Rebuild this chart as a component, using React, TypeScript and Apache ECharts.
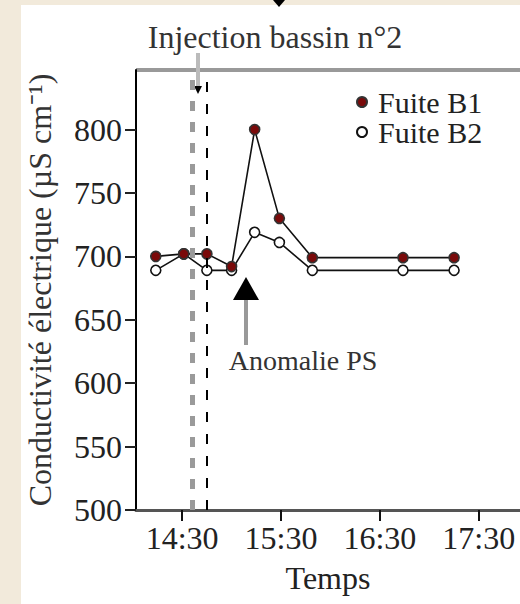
import React, { useEffect, useRef } from "react";
import * as echarts from "echarts";

const times = ["14:14", "14:31", "14:45", "15:00", "15:14", "15:29", "15:49", "16:44", "17:15"];
const fuiteB1 = [700, 702, 702, 692, 800, 730, 699, 699, 699];
const fuiteB2 = [689, 702, 689, 689, 719, 711, 689, 689, 689];
const xTickTimes = ["14:30", "15:30", "16:30", "17:30"];
const yTicks = [500, 550, 600, 650, 700, 750, 800];
const injectionTimes = ["14:36", "14:45"];

const toMin = (t: string) => {
  const [h, m] = t.split(":").map(Number);
  return h * 60 + m;
};
const fmt = (v: number) => {
  const h = Math.floor(v / 60);
  const m = Math.round(v - h * 60);
  return `${h}:${m < 10 ? "0" + m : m}`;
};

const FONT = '"Liberation Serif", "Times New Roman", serif';

export default function App() {
  const ref = useRef<HTMLDivElement>(null);
  useEffect(() => {
    if (!ref.current) return;
    const chart = echarts.init(ref.current, null, { renderer: "svg" });
    const mk = (vals: number[]) => times.map((t, i) => [toMin(t), vals[i]]);
    chart.setOption({
      animation: false,
      backgroundColor: "#f2eadb",
      textStyle: { fontFamily: FONT },
      grid: { left: 136, top: 70, right: 0, bottom: 94 },
      legend: {
        data: ["Fuite B1", "Fuite B2"],
        orient: "vertical",
        left: 356,
        top: 87,
        padding: 0,
        itemGap: 0,
        itemWidth: 22,
        itemHeight: 10,
        icon: "circle",
        textStyle: { fontSize: 30, lineHeight: 30, fontFamily: FONT, color: "#222" },
      },
      xAxis: {
        type: "value",
        min: 842,
        max: 1075,
        name: "Temps",
        nameLocation: "middle",
        nameGap: 52,
        nameTextStyle: { fontSize: 32, fontFamily: FONT, color: "#222" },
        axisLine: { lineStyle: { color: "#555", width: 3 } },
        axisTick: {
          customValues: xTickTimes.map(toMin),
          length: 11,
          lineStyle: { color: "#111", width: 2 },
        },
        axisLabel: {
          customValues: xTickTimes.map(toMin),
          formatter: (v: number) => fmt(v),
          fontSize: 32,
          fontFamily: FONT,
          color: "#222",
          margin: 12,
        },
        splitLine: { show: false },
      },
      yAxis: {
        type: "value",
        min: 500,
        max: 847,
        name: "Conductivité électrique (µS cm⁻¹)",
        nameLocation: "middle",
        nameGap: 80,
        nameTextStyle: { fontSize: 32, fontFamily: FONT, color: "#333" },
        axisLine: { show: true, lineStyle: { color: "#000", width: 2 } },
        axisTick: {
          show: true,
          customValues: yTicks,
          length: 11,
          lineStyle: { color: "#222", width: 2 },
        },
        axisLabel: {
          customValues: yTicks,
          fontSize: 32,
          fontFamily: FONT,
          color: "#222",
          margin: 14,
        },
        splitLine: { show: false },
      },
      series: [
        {
          name: "Fuite B2",
          type: "line",
          data: mk(fuiteB2),
          symbol: "circle",
          symbolSize: 10,
          lineStyle: { color: "#111", width: 1.6 },
          itemStyle: { color: "#ffffff", borderColor: "#111", borderWidth: 1.6 },
          z: 3,
          markLine: {
            silent: true,
            symbol: "none",
            label: { show: false },
            data: [
              {
                xAxis: toMin(injectionTimes[0]),
                lineStyle: { color: "#9a9a9a", width: 5, type: [10, 11] },
              },
              {
                xAxis: toMin(injectionTimes[1]),
                lineStyle: { color: "#000", width: 2, type: [10, 12] },
              },
            ],
          },
        },
        {
          name: "Fuite B1",
          type: "line",
          data: mk(fuiteB1),
          symbol: "circle",
          symbolSize: 10,
          lineStyle: { color: "#111", width: 1.6 },
          itemStyle: { color: "#7a0a0a", borderColor: "#333", borderWidth: 1.6 },
          z: 4,
        },
      ],
      graphic: [
        {
          type: "rect",
          z: -100,
          silent: true,
          shape: { x: 21, y: 5, width: 499, height: 599 },
          style: { fill: "#ffffff" },
        },
        {
          type: "line",
          silent: true,
          shape: { x1: 136, y1: 70, x2: 520, y2: 70 },
          style: { stroke: "#999", lineWidth: 4 },
        },
        {
          type: "polygon",
          silent: true,
          shape: { points: [[273, 0], [285, 0], [279, 7]] },
          style: { fill: "#000" },
        },
        {
          type: "text",
          silent: true,
          x: 275,
          y: 37,
          style: {
            text: "Injection bassin n°2",
            font: `32px ${FONT}`,
            fill: "#333",
            align: "center",
            verticalAlign: "middle",
          },
        },
        {
          type: "line",
          silent: true,
          shape: { x1: 198, y1: 53, x2: 198, y2: 87 },
          style: { stroke: "#bbb", lineWidth: 4 },
        },
        {
          type: "polygon",
          silent: true,
          shape: { points: [[194, 86], [202, 86], [198, 94]] },
          style: { fill: "#000" },
        },
        {
          type: "line",
          silent: true,
          shape: { x1: 246, y1: 298, x2: 246, y2: 345 },
          style: { stroke: "#999", lineWidth: 4 },
        },
        {
          type: "polygon",
          silent: true,
          shape: { points: [[233, 300], [259, 300], [246, 277]] },
          style: { fill: "#000" },
        },
        {
          type: "text",
          silent: true,
          x: 303,
          y: 360,
          style: {
            text: "Anomalie PS",
            font: `28px ${FONT}`,
            fill: "#333",
            align: "center",
            verticalAlign: "middle",
          },
        },
      ],
    });
    return () => chart.dispose();
  }, []);
  return (
    <div
      ref={ref}
      style={{ position: "fixed", left: 0, top: 0, width: 520, height: 604 }}
    />
  );
}
